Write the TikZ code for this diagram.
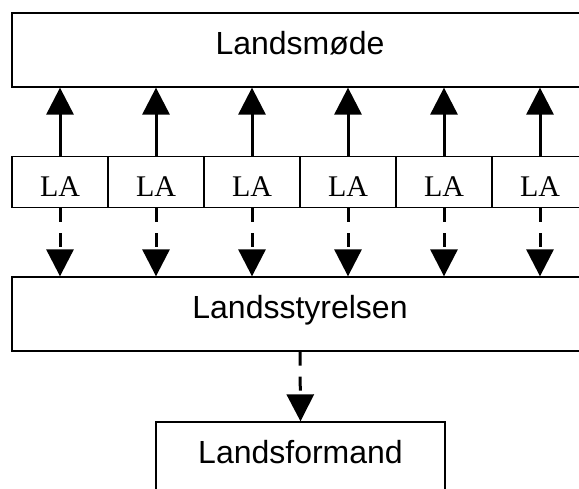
\documentclass[tikz,border=0pt]{standalone}
\usepackage{fontspec}
\setmainfont{Liberation Sans}
\newfontfamily\laserif{Liberation Serif}
\usetikzlibrary{arrows.meta,positioning}

\tikzset{
  organ/.style={draw, line width=1.3pt, inner sep=0pt, minimum width=576pt, minimum height=74pt,
    font=\fontsize{32}{38}\selectfont, text height=24pt, text depth=15pt},
  lakreds/.style={draw, line width=1.3pt, inner sep=0pt, minimum width=96pt, minimum height=51pt,
    font=\laserif\fontsize{30}{36}\selectfont, text height=30pt, text depth=0pt},
  vote/.style={line width=3pt, -{Triangle[length=27pt,width=27pt]}},
  order/.style={vote, dash pattern=on 14pt off 11pt},
}

\begin{document}
\begin{tikzpicture}[x=1pt,y=1pt]
    \clip (0,0) rectangle (579,489);
    \node[organ] (moede) at (300,439) {Landsmøde};
    \foreach \i in {1,...,6}
        \node[lakreds] (la\i) at (-36+96*\i,307) {LA};
    \node[organ] (styrelse) at (300,175) {Landsstyrelsen};
    \node[organ, minimum width=289pt] (formand) at (300.5,30) {Landsformand};
    % up to the landsmoede, down to the styrelse
    \foreach \i in {1,...,6} {
        \draw[vote] (la\i.north) -- (la\i.north |- moede.south);
        \draw[order] (la\i.south) -- (la\i.south |- styrelse.north);
    }
    \draw[order] (styrelse.south) -- (formand.north);
\end{tikzpicture}
\end{document}
